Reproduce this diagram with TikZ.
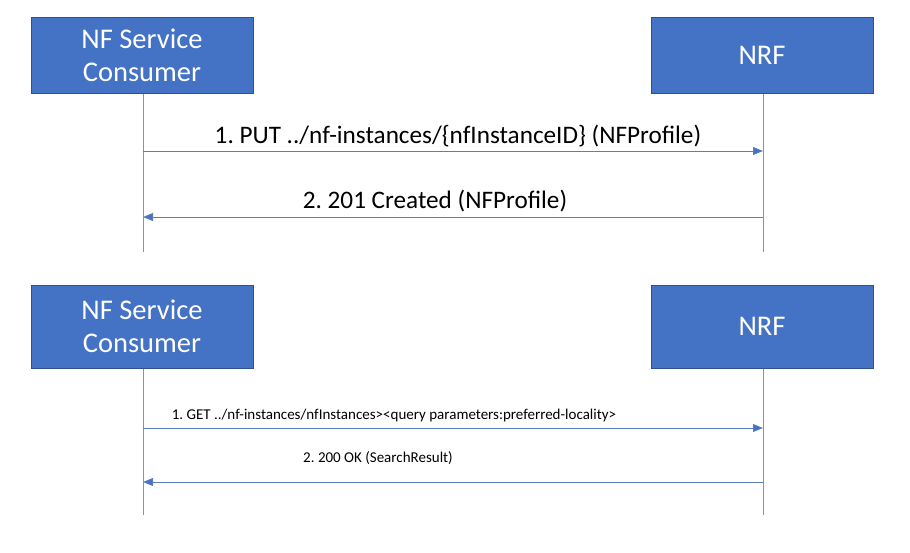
\documentclass[tikz,border=0pt]{standalone}
\usepackage{fontspec}
\setmainfont{Carlito}
\usetikzlibrary{arrows.meta}
\definecolor{boxfill}{HTML}{4472C4}
\definecolor{boxline}{HTML}{2F528F}
\definecolor{lifecol}{HTML}{7F95B8}
\definecolor{msgcol}{HTML}{5B7DBA}
\frenchspacing
\begin{document}
\begin{tikzpicture}[x=1pt,y=-1pt,
  actor/.style={draw=boxline,line width=1pt,fill=boxfill,text=white,minimum width=222pt,align=center,font=\fontsize{28.5}{33}\selectfont,inner sep=0pt},
  life/.style={draw=lifecol,line width=0.9pt},
  msg/.style={draw=msgcol,line width=0.9pt,-{Triangle[length=10pt,width=8pt,fill=boxfill]}},
  biglab/.style={font=\fontsize{25.2}{28}\selectfont,anchor=base},
  smalllab/.style={font=\fontsize{15}{18}\selectfont,anchor=base}]
\useasboundingbox (0,0) rectangle (910,552);
% top diagram
\node[actor,minimum height=76pt] (c1) at (142,55) {NF Service\\Consumer};
\node[actor,minimum height=76pt] (n1) at (762,55) {NRF};
\coordinate (c1e) at (143,252);
\coordinate (n1e) at (763,252);
\draw[life] (c1.south -| c1e) -- (c1e);
\draw[life] (n1.south -| n1e) -- (n1e);
\coordinate (a1s) at (143,151);
\coordinate (a1e) at (763,151);
\coordinate (a2s) at (763,217);
\coordinate (a2e) at (143,217);
\draw[msg] (a1s) -- (a1e);
\draw[msg] (a2s) -- (a2e);
\node[biglab] (l1) at (458,143) {1. PUT ../nf-instances/\{nfInstanceID\} (NFProfile)};
\node[biglab] (l2) at (435,208) {2. 201 Created (NFProfile)};
% bottom diagram
\node[actor,minimum height=83pt] (c2) at (142,326.5) {NF Service\\Consumer};
\node[actor,minimum height=83pt] (n2) at (762,326.5) {NRF};
\coordinate (c2e) at (143,515);
\coordinate (n2e) at (763,515);
\draw[life] (c2.south -| c2e) -- (c2e);
\draw[life] (n2.south -| n2e) -- (n2e);
\coordinate (b1s) at (143,428);
\coordinate (b1e) at (763,428);
\coordinate (b2s) at (763,482);
\coordinate (b2e) at (143,482);
\draw[msg] (b1s) -- (b1e);
\draw[msg] (b2s) -- (b2e);
\node[smalllab] (m1) at (394,419) {1. GET ../nf-instances/nfInstances><query parameters:preferred-locality>};
\node[smalllab] (m2) at (378,462) {2. 200 OK (SearchResult)};
\end{tikzpicture}
\end{document}
